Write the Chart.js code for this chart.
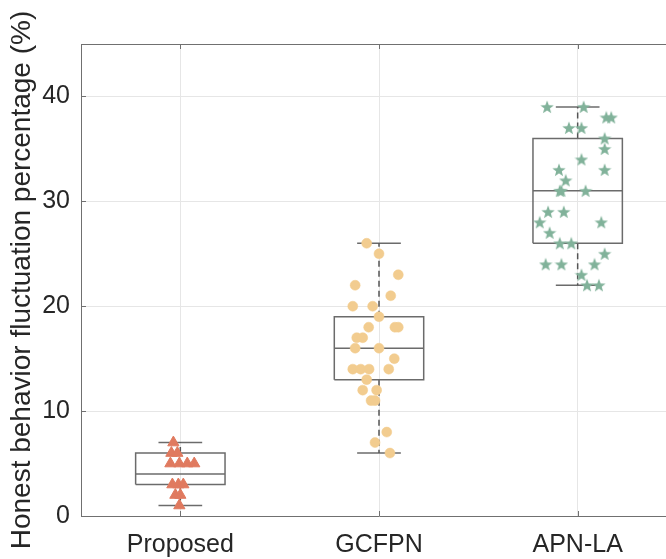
<!DOCTYPE html>
<html>
<head>
<meta charset="utf-8">
<script src="https://cdn.jsdelivr.net/npm/chart.js@4.4.1/dist/chart.umd.min.js"></script>
<style>
  html, body { margin: 0; padding: 0; overflow: hidden; background: #fff; width: 666px; height: 559px; }
  #wrap { width: 720px; height: 559px; }
</style>
</head>
<body>
<div id="wrap"><canvas id="boxChart" width="720" height="559"></canvas></div>
<script>
const categories = ["Proposed", "GCFPN", "APN-LA"];
const yTicks = [0, 10, 20, 30, 40];

// box statistics per category
const q1 = [3, 13, 26];
const median = [4, 16, 31];
const q3 = [6, 19, 36];
const whiskerLow = [1, 6, 22];
const whiskerHigh = [7, 26, 39];

// individual samples (value) and their horizontal jitter
const proposedValues = [7, 6, 6, 5, 5, 5, 5, 3, 3, 3, 2, 2, 1];
const proposedJitter = [-0.035, -0.045, -0.015, -0.05, -0.005, 0.035, 0.07, -0.04, -0.01, 0.015, -0.025, 0, -0.005];

const gcfpnValues = [26, 25, 23, 22, 21, 20, 20, 19, 18, 18, 18, 17, 17, 16, 16, 15, 14, 14, 14, 14, 13, 12, 12, 11, 11, 8, 7, 6];
const gcfpnJitter = [-0.062, 0, 0.097, -0.12, 0.059, -0.132, -0.032, 0, -0.052, 0.08, 0.097, -0.112, -0.082, -0.12, 0, 0.077, -0.132, -0.092, -0.05, 0.049, -0.062, -0.082, -0.012, -0.04, -0.02, 0.039, -0.02, 0.055];

const apnValues = [39, 39, 38, 38, 37, 37, 36, 35, 34, 33, 33, 32, 31, 31, 31, 29, 29, 28, 28, 27, 26, 26, 25, 24, 24, 24, 23, 22, 22];
const apnJitter = [-0.154, 0.03, 0.144, 0.169, -0.044, 0.019, 0.136, 0.136, 0.019, -0.094, 0.136, -0.06, -0.09, -0.082, 0.04, -0.149, -0.07, -0.191, 0.119, -0.141, -0.09, -0.032, 0.136, -0.161, -0.082, 0.085, 0.019, 0.047, 0.107];

const boxHalf = 0.225;
const capHalf = 0.11;
const boxColor = "#6b6b6b";
const whiskerColor = "#555555";

function toPoints(values, jitter, center) {
  return values.map((v, i) => ({ x: center + jitter[i], y: v }));
}

// filled five point star used as marker
function makeStar(size, color) {
  const c = document.createElement("canvas");
  c.width = size;
  c.height = size;
  const ctx = c.getContext("2d");
  const cx = size / 2, cy = size / 2 + 0.6;
  const outer = size / 2, inner = outer * 0.42;
  ctx.beginPath();
  for (let i = 0; i < 10; i++) {
    const r = i % 2 === 0 ? outer : inner;
    const a = -Math.PI / 2 + i * Math.PI / 5;
    ctx.lineTo(cx + r * Math.cos(a), cy + r * Math.sin(a));
  }
  ctx.closePath();
  ctx.fillStyle = color;
  ctx.fill();
  return c;
}

const lineSet = (data, color, dash) => ({
  type: "scatter",
  data: data,
  showLine: true,
  borderColor: color,
  borderWidth: 1.5,
  borderDash: dash || [],
  pointRadius: 0,
  pointHoverRadius: 0,
  fill: false,
  order: 2,
});

const boxSets = [];
categories.forEach((c, i) => {
  const x = i + 1;
  boxSets.push(lineSet([
    { x: x - boxHalf, y: q1[i] }, { x: x + boxHalf, y: q1[i] },
    { x: x + boxHalf, y: q3[i] }, { x: x - boxHalf, y: q3[i] },
    { x: x - boxHalf, y: q1[i] },
  ], boxColor));
  boxSets.push(lineSet([{ x: x - boxHalf, y: median[i] }, { x: x + boxHalf, y: median[i] }], boxColor));
  boxSets.push(lineSet([{ x: x, y: q3[i] }, { x: x, y: whiskerHigh[i] }], whiskerColor, [6, 4]));
  boxSets.push(lineSet([{ x: x, y: q1[i] }, { x: x, y: whiskerLow[i] }], whiskerColor, [6, 4]));
  boxSets.push(lineSet([{ x: x - capHalf, y: whiskerHigh[i] }, { x: x + capHalf, y: whiskerHigh[i] }], boxColor));
  boxSets.push(lineSet([{ x: x - capHalf, y: whiskerLow[i] }, { x: x + capHalf, y: whiskerLow[i] }], boxColor));
});

// top frame line and inward tick marks, MATLAB style
const framePlugin = {
  id: "frame",
  beforeDatasetsDraw(chart) {
    const { ctx, chartArea, scales } = chart;
    ctx.save();
    ctx.strokeStyle = "#707070";
    ctx.lineWidth = 1;
    ctx.beginPath();
    ctx.moveTo(chartArea.left, chartArea.top + 0.5);
    ctx.lineTo(chartArea.right, chartArea.top + 0.5);
    scales.x.ticks.forEach(t => {
      const px = Math.round(scales.x.getPixelForValue(t.value)) + 0.5;
      ctx.moveTo(px, chartArea.bottom);
      ctx.lineTo(px, chartArea.bottom - 5);
      ctx.moveTo(px, chartArea.top);
      ctx.lineTo(px, chartArea.top + 5);
    });
    scales.y.ticks.forEach(t => {
      const py = Math.round(scales.y.getPixelForValue(t.value)) + 0.5;
      ctx.moveTo(chartArea.left, py);
      ctx.lineTo(chartArea.left + 5, py);
    });
    ctx.stroke();
    ctx.restore();
  },
};

const fontFamily = "'Liberation Sans', Arial, Helvetica, sans-serif";

new Chart(document.getElementById("boxChart"), {
  type: "scatter",
  data: {
    datasets: [
      {
        label: categories[0],
        data: toPoints(proposedValues, proposedJitter, 1),
        pointStyle: "triangle",
        pointRadius: 6.5,
        backgroundColor: "#E07A5F",
        borderColor: "#E07A5F",
        borderWidth: 1,
        order: 0,
      },
      {
        label: categories[1],
        data: toPoints(gcfpnValues, gcfpnJitter, 2),
        pointStyle: "circle",
        pointRadius: 5,
        backgroundColor: "#F2CC8F",
        borderColor: "#F2CC8F",
        borderWidth: 0.5,
        order: 0,
      },
      {
        label: categories[2],
        data: toPoints(apnValues, apnJitter, 3),
        pointStyle: makeStar(14, "#81B29A"),
        order: 0,
      },
      ...boxSets,
    ],
  },
  options: {
    responsive: false,
    animation: false,
    layout: { padding: { top: 44, right: 43, left: 0, bottom: 0 } },
    plugins: {
      legend: { display: false },
      tooltip: { enabled: false },
    },
    scales: {
      x: {
        type: "linear",
        min: 0.5,
        max: 3.5,
        afterBuildTicks: s => { s.ticks = categories.map((c, i) => ({ value: i + 1 })); },
        afterFit: s => { s.height = 43; },
        ticks: {
          callback: v => categories[v - 1],
          color: "#262626",
          font: { family: fontFamily, size: 25 },
          padding: 14,
          maxRotation: 0,
        },
        grid: { color: "#e6e6e6", drawTicks: false },
        border: { color: "#707070" },
      },
      y: {
        min: 0,
        max: 45,
        afterBuildTicks: s => { s.ticks = yTicks.map(v => ({ value: v })); },
        afterFit: s => { s.width = 81; },
        ticks: {
          color: "#262626",
          font: { family: fontFamily, size: 25 },
          padding: 11,
        },
        grid: {
          color: ctx => (ctx.tick && ctx.tick.value === 0 ? "rgba(0,0,0,0)" : "#e6e6e6"),
          drawTicks: false,
        },
        border: { color: "#707070" },
        title: {
          display: true,
          text: "Honest behavior fluctuation percentage (%)",
          color: "#262626",
          font: { family: fontFamily, size: 28 },
          padding: { top: 5, bottom: 0 },
        },
      },
    },
  },
  plugins: [framePlugin],
});
</script>
</body>
</html>
